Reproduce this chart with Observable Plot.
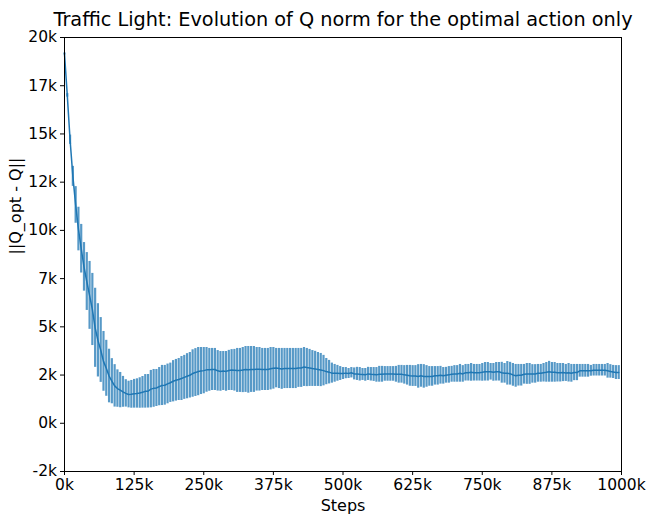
<!DOCTYPE html>
<html>
<head>
<meta charset="utf-8">
<script src="https://cdn.jsdelivr.net/npm/d3@7"></script>
<script src="https://cdn.jsdelivr.net/npm/@observablehq/plot@0.6"></script>
<style>
  html, body { margin: 0; padding: 0; background: white; }
</style>
</head>
<body>
<div id="chart"></div>
<script>
const titleText = "Traffic Light: Evolution of Q norm for the optimal action only";
const xLabel = "Steps";
const yLabel = "||Q_opt - Q||";

// steps (in thousands)
const stepsK = [0,5,10,15,20,25,30,35,40,45,50,55,60,65,70,75,80,85,90,95,
100,105,110,115,120,125,130,135,140,145,150,155,160,165,170,175,180,185,190,195,
200,205,210,215,220,225,230,235,240,245,250,255,260,265,270,275,280,285,290,295,
300,305,310,315,320,325,330,335,340,345,350,355,360,365,370,375,380,385,390,395,
400,405,410,415,420,425,430,435,440,445,450,455,460,465,470,475,480,485,490,495,
500,505,510,515,520,525,530,535,540,545,550,555,560,565,570,575,580,585,590,595,
600,605,610,615,620,625,630,635,640,645,650,655,660,665,670,675,680,685,690,695,
700,705,710,715,720,725,730,735,740,745,750,755,760,765,770,775,780,785,790,795,
800,805,810,815,820,825,830,835,840,845,850,855,860,865,870,875,880,885,890,895,
900,905,910,915,920,925,930,935,940,945,950,955,960,965,970,975,980,985,990,995];

const meanNorm = [19150,17000,14700,12800,11320,10070,9050,8110,7350,6630,
5900,4950,4300,3800,3210,2850,2450,2180,1940,1800,
1720,1630,1550,1490,1500,1530,1545,1570,1605,1655,
1660,1770,1810,1830,1900,1960,1970,2040,2100,2180,
2230,2270,2320,2380,2440,2490,2580,2630,2680,2710,
2730,2770,2770,2790,2790,2720,2690,2710,2690,2740,
2760,2750,2740,2740,2760,2790,2770,2790,2790,2800,
2800,2790,2790,2790,2830,2850,2860,2840,2820,2840,
2840,2840,2840,2840,2870,2870,2920,2890,2870,2840,
2820,2790,2760,2730,2680,2650,2600,2590,2590,2580,
2580,2600,2580,2620,2560,2560,2540,2530,2510,2560,
2540,2530,2510,2540,2540,2560,2560,2560,2560,2540,
2540,2540,2510,2490,2460,2450,2450,2430,2460,2430,
2430,2430,2430,2460,2460,2490,2460,2490,2510,2540,
2560,2560,2590,2560,2620,2620,2640,2620,2620,2620,
2640,2670,2670,2670,2640,2670,2670,2620,2590,2590,
2570,2510,2460,2490,2490,2540,2560,2560,2560,2560,
2590,2590,2620,2640,2670,2640,2640,2620,2620,2630,
2610,2620,2590,2630,2630,2720,2720,2720,2720,2720,
2750,2750,2750,2750,2750,2720,2690,2660,2630,2630];

const errNorm = [50,90,240,520,950,1130,1260,1260,1500,1760,
1870,2050,1900,1680,1550,1450,1390,1170,1100,970,
915,800,710,690,720,745,760,790,820,870,
870,970,980,960,990,1040,1030,1030,1020,1070,
1080,1090,1140,1140,1170,1180,1230,1240,1250,1220,
1200,1160,1110,1090,1090,1050,1030,1010,1030,1040,
1060,1080,1140,1140,1170,1190,1210,1190,1190,1130,
1130,1090,1090,1090,1100,1080,1020,1040,1060,1040,
1040,1040,1040,1040,1010,1010,1010,990,960,930,
910,880,860,790,680,610,520,460,410,360,
310,290,260,270,310,340,350,310,330,340,
350,360,380,410,410,380,380,380,380,410,
460,460,480,510,540,540,540,610,590,610,
560,510,510,480,480,460,430,410,430,410,
430,430,460,430,430,430,460,430,430,430,
460,480,480,430,460,480,480,540,510,610,
590,590,590,560,560,510,540,540,480,480,
460,460,480,510,540,510,510,480,480,470,
440,480,460,420,420,330,330,330,330,280,
300,300,300,300,300,380,350,340,360,360];

const xTicks = [0,125000,250000,375000,500000,625000,750000,875000,1000000];
const xTickLabels = ["0k","125k","250k","375k","500k","625k","750k","875k","1000k"];
const yTicks = [-2500,0,2500,5000,7500,10000,12500,15000,17500,20000];
const yTickLabels = ["-2k","0k","2k","5k","7k","10k","12k","15k","17k","20k"];

const data = stepsK.map((s, i) => ({step: s * 1000, mean: meanNorm[i], err: errNorm[i]}));

const blue = "#1f77b4";
const chart = Plot.plot({
  width: 654,
  height: 519,
  marginLeft: 64,
  marginRight: 33,
  marginTop: 37,
  marginBottom: 48,
  style: {fontFamily: "DejaVu Sans", fontSize: "15.5px", background: "white", color: "black"},
  x: {domain: [0, 1000000]},
  y: {domain: [-2500, 20000]},
  marks: [
    Plot.ruleX(data, {x: "step", y1: d => d.mean - d.err, y2: d => d.mean + d.err,
      stroke: blue, strokeOpacity: 0.75, strokeWidth: 2.2}),
    Plot.line(data, {x: "step", y: "mean", stroke: blue, strokeWidth: 1.5}),
    Plot.frame({stroke: "black", strokeWidth: 1}),
    Plot.axisX({ticks: xTicks, tickFormat: d => xTickLabels[xTicks.indexOf(d)],
      tickSize: 4, tickPadding: 3.5, label: null, fontSize: 15.5, stroke: "black"}),
    Plot.axisY({ticks: yTicks, tickFormat: d => yTickLabels[yTicks.indexOf(d)],
      tickSize: 4, tickPadding: 3.5, label: null, fontSize: 15.5, stroke: "black"}),
    Plot.text([titleText], {text: d => d, frameAnchor: "top", lineAnchor: "bottom",
      dy: -12, fontSize: 19.3, fill: "black"}),
    Plot.text([xLabel], {text: d => d, frameAnchor: "bottom", lineAnchor: "bottom",
      dy: 39, fontSize: 16, fill: "black"}),
    Plot.text([yLabel], {text: d => d, frameAnchor: "left", lineAnchor: "middle",
      rotate: -90, dx: -49, fontSize: 16, fill: "black"})
  ]
});
document.getElementById("chart").appendChild(chart);
</script>
</body>
</html>
